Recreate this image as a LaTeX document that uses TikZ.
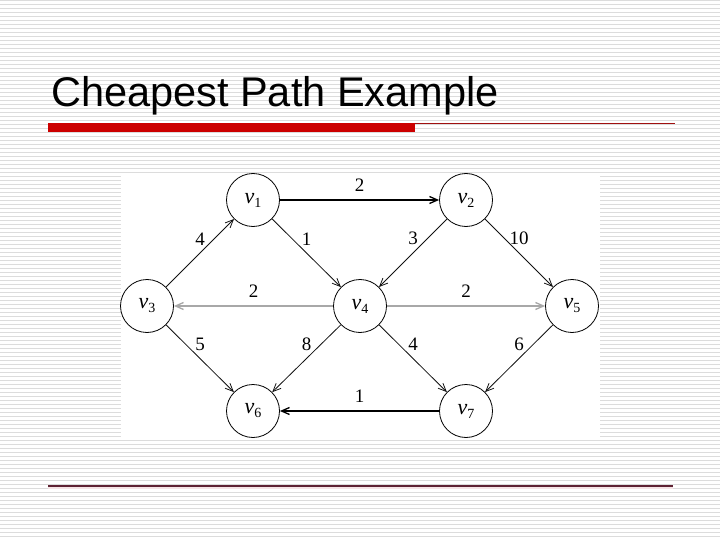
\documentclass[tikz,border=0pt]{standalone}
\usepackage{fontspec}
\setmainfont{Liberation Serif}
\newfontfamily\titlefont{Liberation Sans}
\usetikzlibrary{arrows.meta}
\definecolor{stripe}{HTML}{DCDCDC}
\definecolor{barred}{HTML}{CC0000}
\definecolor{rulered}{HTML}{A01010}
\definecolor{footrule}{HTML}{5E2233}
\definecolor{footglow}{HTML}{F6E4E6}
\definecolor{edgegray}{HTML}{A8A8A8}
\definecolor{ink}{HTML}{111111}
\tikzset{
  >={Straight Barb[length=8pt, width=7pt]},
  %
  vert/.style={circle, draw=black, line width=0.8pt, fill=white,
               minimum size=53pt, inner sep=0pt},
  wt/.style={font=\fontsize{19}{19}\selectfont, text=black, inner sep=2pt,
             midway, above=5.5pt},
  %
  arc/.style={draw=ink, line width=0.8pt, ->},
  arcbold/.style={arc, draw=black, line width=1.3pt},
  arcgray/.style={arc, draw=edgegray, line width=1.3pt},
}
\newcommand{\vlab}[1]{{\fontsize{22}{22}\selectfont\itshape v}\raisebox{-4pt}{\fontsize{14}{14}\selectfont #1}}

\begin{document}
\begin{tikzpicture}[x=1pt, y=-1pt]

% slide background
\fill[white] (0,0) rectangle (720,540);
\useasboundingbox (0,0) rectangle (720,540);
\foreach \k in {0,...,134}
  \draw[stripe, line width=1pt] (0,4*\k+0.5) -- (720,4*\k+0.5);

% title and rules
\node[anchor=base west, inner sep=0pt, font=\titlefont\fontsize{41.5}{41.5}\selectfont]
  (title) at (51,107) {Cheapest Path Example};
\fill[barred] (48,123) rectangle (415,132);
\draw[rulered, line width=0.8pt] (415,123.4) -- (675,123.4);
\fill[footglow] (48,486) rectangle (673,489);
\draw[footrule, line width=1.1pt] (48,486) -- (673,486);

% the graph
\fill[white] (121,175) rectangle (600,437);

\node[vert] (v1) at (253,200) {\vlab{1}};
\node[vert] (v2) at (466,200) {\vlab{2}};
\node[vert] (v3) at (147,306) {\vlab{3}};
\node[vert] (v4) at (360,306) {\vlab{4}};
\node[vert] (v5) at (572,306) {\vlab{5}};
\node[vert] (v6) at (253,411) {\vlab{6}};
\node[vert] (v7) at (466,411) {\vlab{7}};

\draw[arcbold] (v1) -- node[wt] {2} (v2);
\draw[arc] (v3) -- node[wt] {4} (v1);
\draw[arc] (v1) -- node[wt] {1} (v4);
\draw[arc] (v2) -- node[wt] {3} (v4);
\draw[arc] (v2) -- node[wt] {10} (v5);
\draw[arcgray] (v4) -- node[wt] {2} (v3);
\draw[arcgray] (v4) -- node[wt] {2} (v5);
\draw[arc] (v3) -- node[wt] {5} (v6);
\draw[arc] (v4) -- node[wt] {8} (v6);
\draw[arc] (v4) -- node[wt] {4} (v7);
\draw[arc] (v5) -- node[wt] {6} (v7);
\draw[arcbold] (v7) -- node[wt] {1} (v6);

\end{tikzpicture}
\end{document}
